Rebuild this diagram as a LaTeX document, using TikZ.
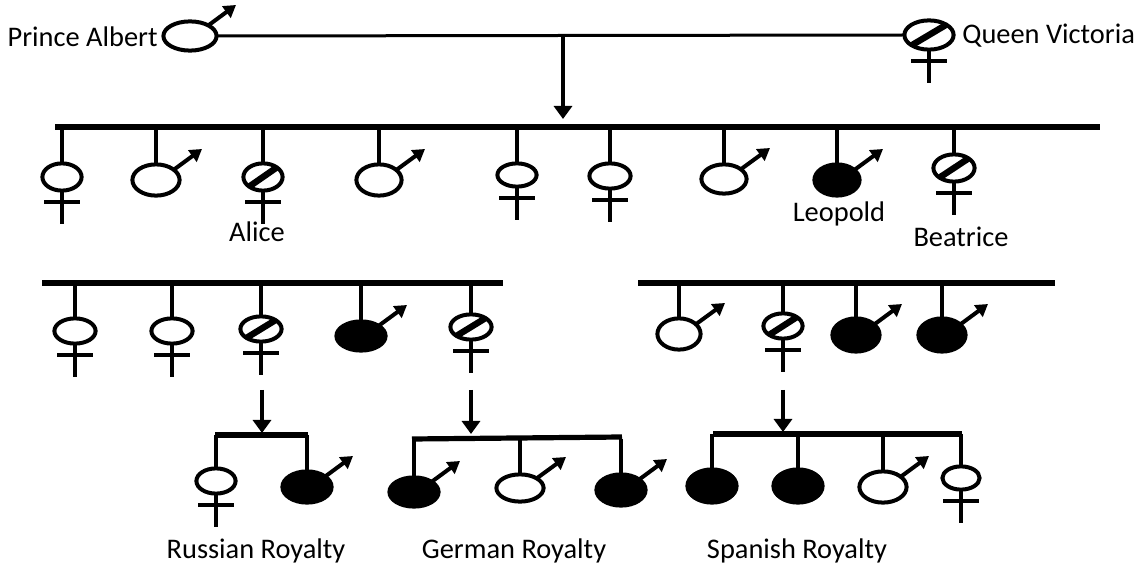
\documentclass[tikz,border=0pt]{standalone}
\usepackage{fontspec}
\setmainfont{Carlito}
\usetikzlibrary{shapes.geometric,arrows.meta,calc}
\tikzset{
  ind/.style={ellipse, draw, line width=2pt, inner sep=0pt, outer sep=0pt, fill=white},
  sz/.style 2 args={minimum width={#1*1pt-1.4pt}, minimum height={#2*1pt-1.4pt}},
  aff/.style={ind, fill=black},
  car/.style={ind, path picture={\draw[line width=3.2pt] (path picture bounding box.south west) -- (path picture bounding box.north east);}},
  sym/.style={line width=2pt},
  bar/.style={line width=2.6pt},
  drop/.style={line width=1.8pt},
  marr/.style={line width=1.5pt},
  gen/.style={line width=1.8pt, -{Triangle[length=6.5pt,width=9pt]}},
  lbl/.style={inner sep=0pt, font=\fontsize{14.2pt}{17pt}\selectfont},
}
\newcommand\femsym[1]{\draw[sym] (#1.south) -- ++(0,33); \draw[sym] ($(#1.south)+(-18,11)$) -- ++(36,0);}
\newcommand\malsym[1]{\draw[sym,-{Triangle[length=6pt,width=7pt]}] (#1.30) -- ($(#1.center)+(46,-31)$);}
\begin{document}
\begin{tikzpicture}[x=0.5pt,y=-0.5pt]
\useasboundingbox (0,0) rectangle (1142,577);
% parents
\node[ind,sz={28}{16}] (albert) at (190,36) {};
\node[car,sz={26}{16}] (victoria) at (929,35) {};
\malsym{albert}
\femsym{victoria}
\node[lbl,anchor=east] (tAlbert) at (158,37) {Prince Albert};
\node[lbl,anchor=west] (tVictoria) at (962,36) {Queen Victoria};
\draw[marr] (albert.east) -- (victoria.west);
\coordinate (m1) at (563,36);
\coordinate (m1e) at (563,119);
\draw[gen] (m1) -- (m1e);
% row 2
\coordinate (r2a) at (55,127);
\coordinate (r2b) at (1100,127);
\draw[bar] (r2a) -- (r2b);
\node[ind,sz={21}{15}] (c1) at (62,177) {};
\node[ind,sz={25}{17}] (c2) at (156,180) {};
\node[car,sz={21}{15}] (c3) at (263,177) {};
\node[ind,sz={24}{17}] (c4) at (379,180) {};
\node[ind,sz={21}{13}] (c5) at (517,175) {};
\node[ind,sz={22}{14}] (c6) at (610,176) {};
\node[ind,sz={24}{16}] (c7) at (724,179) {};
\node[aff,sz={24}{17}] (c8) at (837,180) {};
\node[car,sz={22}{15}] (c9) at (954,168) {};
\foreach \n in {c1,c2,c3,c4,c5,c6,c7,c8,c9} {\draw[drop] (\n.north |- r2a) -- (\n.north);}
\femsym{c1} \malsym{c2} \femsym{c3} \malsym{c4} \femsym{c5} \femsym{c6} \malsym{c7} \malsym{c8} \femsym{c9}
\node[lbl] (tAlice) at (257,232) {Alice};
\node[lbl] (tLeopold) at (839,214) {Leopold};
\node[lbl] (tBeatrice) at (961,237) {Beatrice};
% row 3 left
\coordinate (r3a) at (42,283);
\coordinate (r3b) at (503,283);
\draw[bar] (r3a) -- (r3b);
\node[ind,sz={22}{14}] (d1) at (75,331) {};
\node[ind,sz={22}{14}] (d2) at (172,331) {};
\node[car,sz={22}{14}] (d3) at (261,329) {};
\node[aff,sz={26}{16}] (d4) at (361,336) {};
\node[car,sz={22}{14}] (d5) at (471,327) {};
\foreach \n in {d1,d2,d3,d4,d5} {\draw[drop] (\n.north |- r3a) -- (\n.north);}
\femsym{d1} \femsym{d2} \femsym{d3} \malsym{d4} \femsym{d5}
% row 3 right
\coordinate (r3c) at (638,283);
\coordinate (r3d) at (1055,283);
\draw[bar] (r3c) -- (r3d);
\node[ind,sz={23}{17}] (e1) at (679,334) {};
\node[car,sz={21}{14}] (e2) at (783,326) {};
\node[aff,sz={25}{18}] (e3) at (856,335) {};
\node[aff,sz={25}{18}] (e4) at (942,335) {};
\foreach \n in {e1,e2,e3,e4} {\draw[drop] (\n.north |- r3c) -- (\n.north);}
\malsym{e1} \femsym{e2} \malsym{e3} \malsym{e4}
% generation arrows
\coordinate (ga) at (262,390); \coordinate (gae) at (262,433);
\coordinate (gb) at (471,390); \coordinate (gbe) at (471,434);
\coordinate (gc) at (783,390); \coordinate (gce) at (783,432);
\draw[gen] (ga) -- (gae);
\draw[gen] (gb) -- (gbe);
\draw[gen] (gc) -- (gce);
% Russian
\coordinate (ra) at (215,435); \coordinate (rb) at (308,435);
\draw[bar] (ra) -- (rb);
\node[ind,sz={21}{14}] (f1) at (216,481) {};
\node[aff,sz={26}{17}] (f2) at (307,487) {};
\foreach \n in {f1,f2} {\draw[drop] (\n.north |- ra) -- (\n.north);}
\femsym{f1} \malsym{f2}
% German
\coordinate (ga1) at (412,439); \coordinate (gb1) at (622,437);
\draw[bar] (ga1) -- (gb1);
\node[aff,sz={26}{16}] (h1) at (414,492) {};
\node[ind,sz={25}{15}] (h2) at (520,488) {};
\node[aff,sz={26}{17}] (h3) at (621,490) {};
\foreach \n in {h1,h2,h3} {\draw[drop] (\n.north |- ga1) -- (\n.north);}
\malsym{h1} \malsym{h2} \malsym{h3}
% Spanish
\coordinate (sa) at (713,434); \coordinate (sb) at (962,434);
\draw[bar] (sa) -- (sb);
\node[aff,sz={26}{18}] (s1) at (712,486) {};
\node[aff,sz={26}{18}] (s2) at (798,486) {};
\node[ind,sz={25}{17}] (s3) at (883,487) {};
\node[ind,sz={20}{13}] (s4) at (961,478) {};
\foreach \n in {s1,s2,s3,s4} {\draw[drop] (\n.north |- sa) -- (\n.north);}
\malsym{s3} \femsym{s4}
% labels
\node[lbl] (tR) at (256,551) {Russian Royalty};
\node[lbl] (tG) at (514,551) {German Royalty};
\node[lbl] (tS) at (797,551) {Spanish Royalty};
\end{tikzpicture}
\end{document}
